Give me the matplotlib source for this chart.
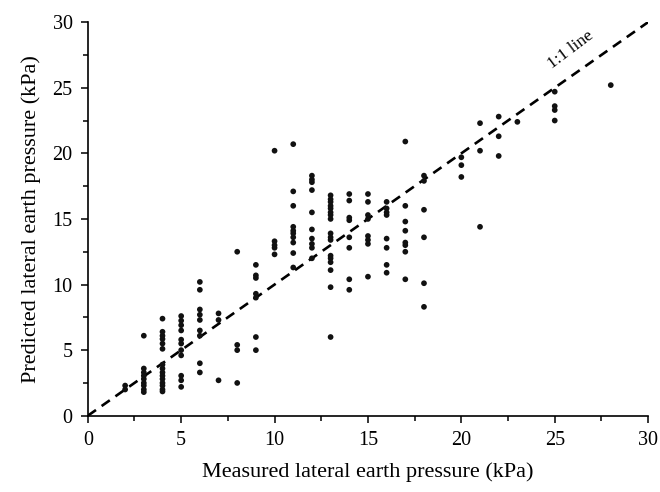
import numpy as np
import matplotlib
matplotlib.use('Agg')
import matplotlib.pyplot as plt
from matplotlib.ticker import MultipleLocator

plt.rcParams['font.family'] = ['Liberation Serif', 'DejaVu Serif']

columns = {
    2: [2.3, 2.0],
    3: [6.1, 3.6, 3.3, 3.05, 2.8, 2.5, 2.3, 2.0, 1.8],
    4: [7.4, 6.4, 6.1, 5.85, 5.5, 5.1, 3.9, 3.6, 3.3, 3.05, 2.8, 2.5, 2.3, 2.0, 1.85],
    5: [7.6, 7.25, 6.9, 6.5, 5.8, 5.5, 5.0, 4.6, 3.05, 2.7, 2.2],
    6: [10.2, 9.6, 8.1, 7.7, 7.3, 6.5, 6.1, 4.0, 3.3],
    7: [7.8, 7.3, 2.7],
    8: [12.5, 5.4, 5.0, 2.5],
    9: [11.5, 10.7, 10.5, 9.3, 9.0, 6.0, 5.0],
    10: [20.2, 13.3, 13.0, 12.8, 12.3],
    11: [20.7, 17.1, 16.0, 14.4, 14.1, 13.9, 13.6, 13.2, 12.4, 11.3],
    12: [18.3, 18.0, 17.8, 17.2, 15.5, 14.2, 13.5, 13.1, 12.8, 12.0],
    13: [16.8, 16.5, 16.3, 16.0, 15.8, 15.5, 15.3, 15.0, 13.9, 13.6, 13.4,
         12.2, 12.0, 11.7, 11.1, 9.8, 6.0],
    14: [16.9, 16.4, 15.1, 14.9, 13.6, 12.8, 10.4, 9.6],
    15: [16.9, 16.3, 15.3, 15.0, 13.7, 13.4, 13.1, 10.6],
    16: [16.3, 15.8, 15.5, 15.3, 13.5, 12.8, 11.5, 10.9],
    17: [20.9, 16.0, 14.8, 14.1, 13.2, 13.0, 12.5, 10.4],
    18: [18.3, 17.9, 15.7, 13.6, 10.1, 8.3],
    20: [19.7, 19.1, 18.2],
    21: [22.3, 20.2, 14.4],
    22: [22.8, 21.3, 19.8],
    23: [22.4],
    25: [24.7, 23.6, 23.3, 22.5],
    28: [25.2],
}

measured = np.concatenate([[k] * len(v) for k, v in columns.items()])
predicted = np.concatenate([v for v in columns.values()])

fig = plt.figure(figsize=(6.6, 4.92), dpi=100)
ax = fig.add_axes([0.133, 0.155, 0.849, 0.8])

ax.plot([0, 30], [0, 30], color='black', lw=1.9, linestyle=(0, (3.8, 2.6)), zorder=1)
ax.scatter(measured, predicted, s=17, color='#111111', edgecolors='none', zorder=2)

ax.text(25.0, 26.2, '1:1 line', fontsize=12.5, rotation=37, rotation_mode='anchor',
        ha='left', va='bottom')

ax.set_xlim(0, 30)
ax.set_ylim(0, 30)
ax.xaxis.set_major_locator(MultipleLocator(5))
ax.yaxis.set_major_locator(MultipleLocator(5))
ax.xaxis.set_minor_locator(MultipleLocator(2.5))
ax.yaxis.set_minor_locator(MultipleLocator(2.5))
ax.tick_params(which='major', direction='out', length=5, width=1.1, labelsize=14.5, pad=6)
ax.tick_params(which='minor', direction='out', length=3.5, width=1.1)
for side in ['top', 'right']:
    ax.spines[side].set_visible(False)
for side in ['left', 'bottom']:
    ax.spines[side].set_linewidth(1.2)

ax.set_xlabel('Measured lateral earth pressure (kPa)', fontsize=16, labelpad=9)
ax.set_ylabel('Predicted lateral earth pressure (kPa)', fontsize=16, labelpad=8)

fig.savefig('out.png', dpi=100)
